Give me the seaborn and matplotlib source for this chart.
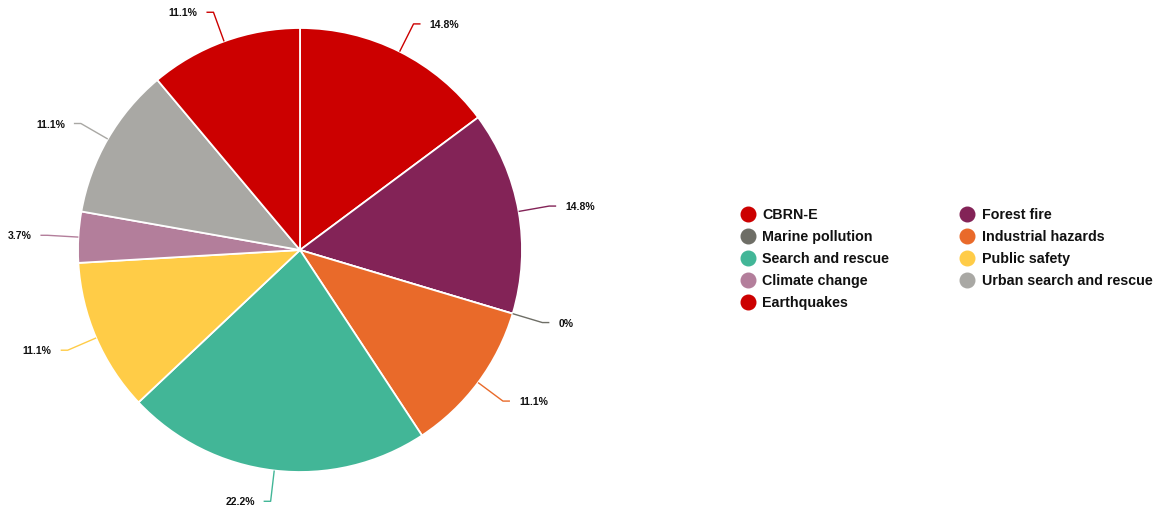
import numpy as np
import matplotlib
matplotlib.use("Agg")
import matplotlib.pyplot as plt
from matplotlib.lines import Line2D
import seaborn as sns

# Share of deployments by hazard type (percent of 27 responses)
categories = ["CBRN-E", "Forest fire", "Marine pollution", "Industrial hazards",
              "Search and rescue", "Public safety", "Climate change",
              "Urban search and rescue", "Earthquakes"]
shares = [14.8, 14.8, 0.0, 11.1, 22.2, 11.1, 3.7, 11.1, 11.1]
labels = ["14.8%", "14.8%", "0%", "11.1%", "22.2%", "11.1%", "3.7%", "11.1%", "11.1%"]
colors = ["#cc0000", "#832357", "#6e6e66", "#e96a2a", "#42b697",
          "#ffcc47", "#b37e9b", "#a9a8a4", "#cc0000"]

sns.set_theme(style="white")
plt.rcParams["font.family"] = ["Liberation Sans", "DejaVu Sans"]

W, H = 1162, 516
fig = plt.figure(figsize=(W / 100, H / 100), dpi=100)
ax = fig.add_axes([0, 0, 1, 1])

cx, cy, R = 300, 266, 222
wedges, _ = ax.pie(shares, colors=colors, startangle=90, counterclock=False,
                   center=(cx, cy), radius=R, frame=True,
                   wedgeprops=dict(edgecolor="white", linewidth=1.3))
ax.set_xlim(0, W)
ax.set_ylim(0, H)
ax.set_aspect("equal")
ax.axis("off")

# Leader lines with a short horizontal tail and the percentage label
for w, lab, col in zip(wedges, labels, colors):
    ang = np.deg2rad((w.theta1 + w.theta2) / 2)
    x0, y0 = cx + R * np.cos(ang), cy + R * np.sin(ang)
    r1 = R + 31
    x1, y1 = cx + r1 * np.cos(ang), cy + r1 * np.sin(ang)
    side = 1 if np.cos(ang) >= 0 else -1
    x2 = x1 + side * 7
    ax.plot([x0, x1, x2], [y0, y1, y1], color=col, lw=1.0, solid_capstyle="butt")
    ax.text(x2 + side * 9, y1 - 1, lab, ha="left" if side > 0 else "right",
            va="center", fontsize=7.5, fontweight="bold", color="#111111")

# Legend filled row by row across two columns
order = [0, 2, 4, 6, 8, 1, 3, 5, 7]
handles = [Line2D([], [], marker="o", linestyle="none", markersize=10.5,
                  markerfacecolor=colors[i], markeredgecolor=colors[i])
           for i in order]
ax.legend(handles, [categories[i] for i in order], ncol=2, frameon=False,
          loc="upper left", bbox_to_anchor=(741 / W, 1 - 208 / H),
          prop=dict(family=["Liberation Sans", "DejaVu Sans"], weight="bold", size=10.3),
          handlelength=1.0, handletextpad=0.5, labelspacing=0.56,
          columnspacing=4.95, borderaxespad=0, borderpad=0, labelcolor="#111111")

fig.savefig("out.png", dpi=100, facecolor="white")
